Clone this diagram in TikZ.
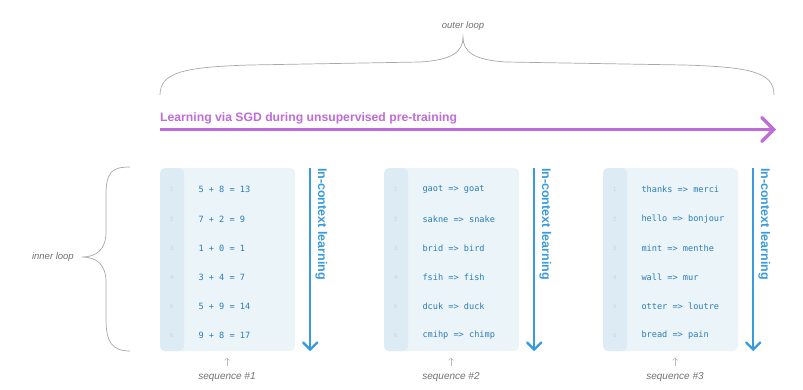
\documentclass[tikz,border=0pt]{standalone}
\usepackage{fontspec}
\setmainfont{Liberation Sans}
\setmonofont{DejaVu Sans Mono}
\usetikzlibrary{arrows.meta}
\definecolor{purp}{HTML}{BF6BD9}
\definecolor{arrblue}{HTML}{3A9BDC}
\definecolor{codeblue}{HTML}{2A7DBA}
\definecolor{panelbg}{HTML}{EBF4F8}
\definecolor{stripbg}{HTML}{DDEBF4}
\definecolor{numgray}{HTML}{C5D5DF}
\definecolor{labgray}{HTML}{707070}
\definecolor{bracegray}{HTML}{A8A8A8}
\begin{document}
\begin{tikzpicture}[x=1pt,y=-1pt,
  panel/.style={fill=panelbg, rounded corners=5pt, minimum width=135pt, minimum height=183pt, inner sep=0pt,
    path picture={\fill[stripbg] (path picture bounding box.north west) rectangle ([xshift=24pt]path picture bounding box.south west);}},
  codetext/.style={font=\ttfamily\fontsize{8.6}{10}\selectfont, text=codeblue, anchor=west, inner sep=0pt},
  numtext/.style={font=\fontsize{6}{7}\selectfont, text=numgray, inner sep=0pt},
  seqlabel/.style={font=\itshape\fontsize{10}{12}\selectfont, text=labgray, inner sep=0pt},
  looplabel/.style={font=\itshape\fontsize{9.5}{11}\selectfont, text=labgray, inner sep=0pt},
  icltext/.style={font=\bfseries\fontsize{12.5}{15}\selectfont, text=arrblue, rotate=-90, anchor=base west, inner sep=0pt},
  iclarrow/.style={draw=arrblue, line width=2.4pt, -{Straight Barb[length=7pt, width=14pt, line cap=round]}},
  uparrow/.style={draw=bracegray!80, line width=0.6pt, -{Straight Barb[length=2.5pt, width=5pt]}},
  bracepath/.style={draw=bracegray, line width=0.7pt},
  purparrow/.style={draw=purp, line width=3.3pt, -{Straight Barb[length=12pt, width=24pt, line cap=round]}}
]
\useasboundingbox (0,0) rectangle (803,389);

% outer loop
\node[looplabel] (outer) at (463,26) {outer loop};
\coordinate (otip) at (463,37);
\coordinate (oleft) at (160,95);
\coordinate (oright) at (774,95);
\draw[bracepath] (oleft) .. controls (160,72) and (185,67) .. (250,65)
  -- (420,62) .. controls (452,60) and (463,52) .. (otip)
  .. controls (463,52) and (474,60) .. (506,62)
  -- (684,65) .. controls (750,67) and (774,72) .. (oright);

% purple arrow
\node[font=\bfseries\fontsize{12.2}{14}\selectfont, text=purp, anchor=base west, inner sep=0pt] (sgd) at (160,121) {Learning via SGD during unsupervised pre-training};
\coordinate (pstart) at (160,129.5);
\coordinate (pend) at (776,129.5);
\draw[purparrow] (pstart) -- (pend);

% inner loop
\node[looplabel, anchor=east] (inner) at (74,257) {inner loop};
\coordinate (itip) at (82,257);
\draw[bracepath] (130,167) .. controls (112,167) and (106,172) .. (106,195)
  -- (106,232) .. controls (106,250) and (96,257) .. (itip)
  .. controls (96,257) and (106,264) .. (106,282)
  -- (106,319) .. controls (106,342) and (112,351) .. (130,351);

% panels
\foreach \i/\cx in {1/227.5, 2/451.5, 3/670.5} {
  \node[panel] (p\i) at (\cx,259.5) {};
}

% row numbers
\foreach \i in {1,2,3} {
  \foreach \r/\ry in {1/189,2/219,3/248,4/277,5/306,6/335} {
    \node[numtext] (n\i\r) at ([xshift=12pt]p\i.west |- 0,\ry) {\r};
  }
}

% code text
\foreach \r/\ry/\t in {1/189/{5 + 8 = 13},2/219/{7 + 2 = 9},3/248/{1 + 0 = 1},4/277/{3 + 4 = 7},5/306/{5 + 9 = 14},6/335/{9 + 8 = 17}} {
  \node[codetext] (ca\r) at ([xshift=38.5pt]p1.west |- 0,\ry) {\t};
}
\foreach \r/\ry/\t in {1/189/{gaot => goat},2/219/{sakne => snake},3/248/{brid => bird},4/277/{fsih => fish},5/306/{dcuk => duck},6/335/{cmihp => chimp}} {
  \node[codetext] (cb\r) at ([xshift=38.5pt]p2.west |- 0,\ry) {\t};
}
\foreach \r/\ry/\t in {1/189/{thanks => merci},2/219/{hello => bonjour},3/248/{mint => menthe},4/277/{wall => mur},5/306/{otter => loutre},6/335/{bread => pain}} {
  \node[codetext] (cc\r) at ([xshift=38.5pt]p3.west |- 0,\ry) {\t};
}

% in-context arrows and labels
\foreach \i in {1,2,3} {
  \coordinate (as\i) at ([xshift=15pt]p\i.north east);
  \coordinate (ae\i) at ([xshift=15pt,yshift=0pt]p\i.south east);
  \draw[iclarrow] (as\i) -- (ae\i);
  \node[icltext] (l\i) at ([xshift=23pt]p\i.north east) {In-context learning};
}

% sequence labels
\foreach \i/\sx in {1/227,2/451,3/675} {
  \node[seqlabel] (s\i) at (\sx,377) {sequence \#\i};
  \coordinate (ub\i) at (\sx,366);
  \coordinate (ut\i) at (\sx,357.5);
  \draw[uparrow] (ub\i) -- (ut\i);
}
\end{tikzpicture}
\end{document}
